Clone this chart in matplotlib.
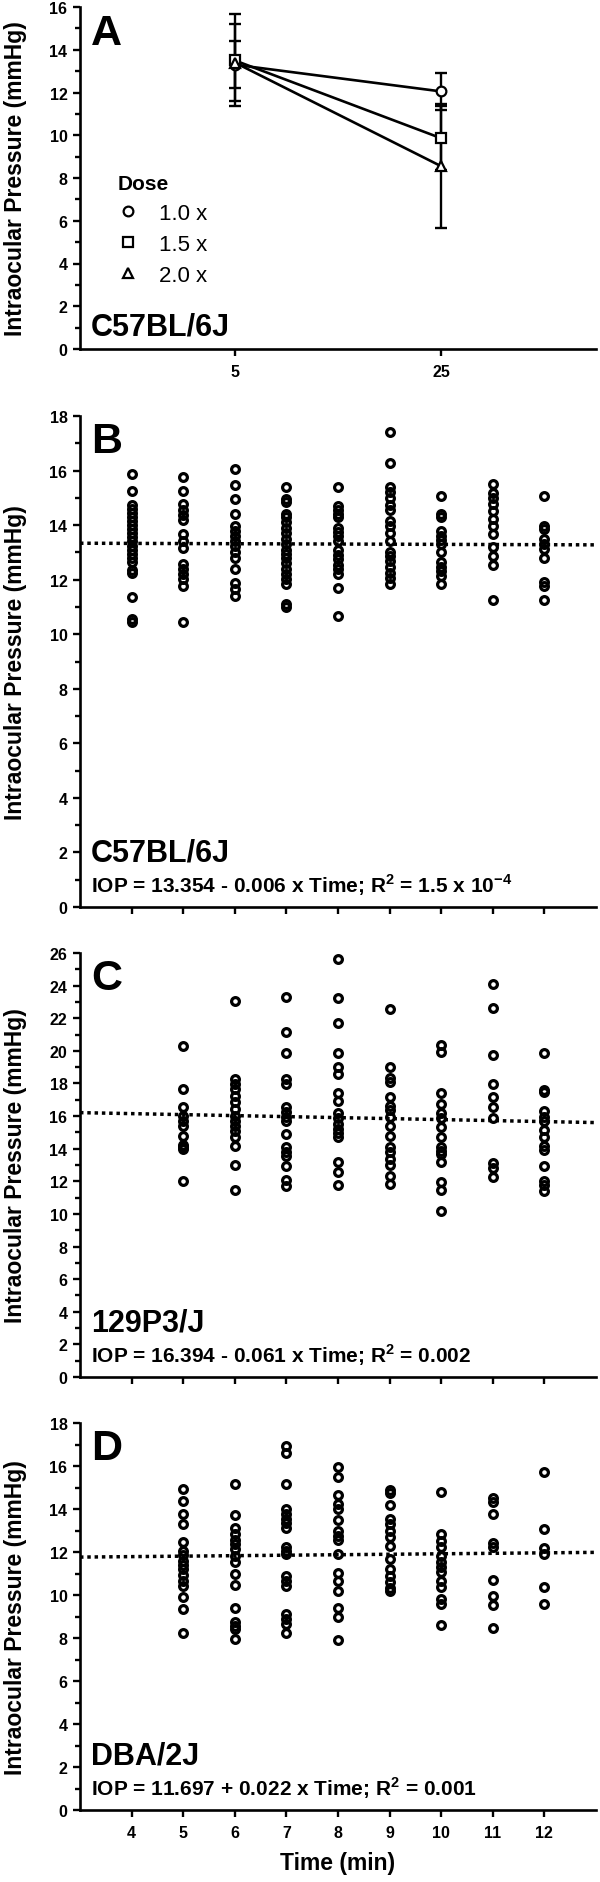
import numpy as np
import matplotlib.pyplot as plt
from matplotlib.lines import Line2D
from matplotlib.ticker import MultipleLocator

plt.rcParams['font.family'] = ['Liberation Sans', 'DejaVu Sans']
plt.rcParams['font.weight'] = 'bold'
plt.rcParams['axes.labelweight'] = 'bold'
plt.rcParams['mathtext.fontset'] = 'custom'
plt.rcParams['mathtext.rm'] = 'Liberation Sans:bold'
plt.rcParams['mathtext.bf'] = 'Liberation Sans:bold'

# Panel A: dose response, C57BL/6J (mean +/- error)
dose_times = [5, 25]
dose_labels = ['1.0 x', '1.5 x', '2.0 x']
dose_markers = ['o', 's', '^']
dose_means = [[13.30, 12.05], [13.50, 9.86], [13.40, 8.55]]
dose_errs = [[1.10, 0.87], [2.15, 1.50], [1.80, 2.89]]

# Panels B-D: IOP vs time (min) after anesthesia
times = [4, 5, 6, 7, 8, 9, 10, 11, 12]

b6_iop = [
    [15.86, 15.25, 14.75, 14.6, 14.45, 14.3, 14.15, 14.0, 13.85, 13.7, 13.55,
     13.4, 13.25, 13.1, 12.95, 12.8, 12.65, 12.35, 12.25, 11.37, 10.55, 10.45],
    [15.77, 15.25, 14.76, 14.57, 14.38, 14.2, 13.69, 13.42, 13.15, 12.57,
     12.38, 12.2, 12.01, 11.77, 10.45],
    [16.07, 15.47, 14.97, 14.4, 13.97, 13.79, 13.6, 13.42, 13.24, 13.0,
     12.81, 12.38, 11.87, 11.65, 11.4],
    [15.38, 14.95, 14.85, 14.4, 14.3, 14.1, 13.9, 13.7, 13.5, 13.3, 13.1,
     12.95, 12.8, 12.6, 12.4, 12.2, 12.02, 11.84, 11.1, 10.98],
    [15.38, 14.7, 14.55, 14.4, 14.3, 13.9, 13.75, 13.6, 13.4, 13.1, 12.9,
     12.75, 12.55, 12.4, 12.2, 11.71, 10.67],
    [17.4, 16.27, 15.38, 15.2, 15.0, 14.75, 14.55, 14.15, 13.95, 13.7, 13.4,
     13.0, 12.85, 12.7, 12.45, 12.25, 12.05, 11.85],
    [15.05, 14.4, 14.28, 13.79, 13.6, 13.45, 13.3, 13.0, 12.63, 12.45, 12.3,
     12.14, 11.84],
    [15.5, 15.19, 15.0, 14.77, 14.5, 14.22, 13.95, 13.67, 13.18, 12.87,
     12.53, 11.25],
    [15.05, 13.97, 13.85, 13.48, 13.3, 13.12, 12.78, 11.9, 11.78, 11.25],
]

p3_iop = [
    [],
    [20.28, 17.66, 16.54, 16.02, 15.72, 15.41, 14.8, 14.25, 14.09, 13.97,
     12.04],
    [23.08, 18.27, 17.97, 17.66, 17.25, 16.84, 16.43, 16.02, 15.72, 15.41,
     15.11, 14.7, 14.19, 13.02, 11.49],
    [23.28, 21.17, 19.85, 18.27, 17.97, 16.54, 16.23, 15.93, 15.72, 14.9,
     14.12, 13.78, 13.57, 12.92, 12.1, 11.7],
    [25.63, 23.22, 21.71, 19.85, 19.03, 18.58, 17.42, 16.95, 16.17, 15.9,
     15.52, 15.2, 14.95, 14.74, 13.17, 12.55, 11.8],
    [22.57, 19.03, 18.34, 18.1, 17.19, 16.64, 16.35, 15.96, 15.41, 14.8,
     14.09, 13.8, 13.37, 13.0, 12.35, 11.84],
    [20.38, 19.91, 17.4, 16.74, 16.17, 15.9, 15.31, 14.7, 14.09, 13.83,
     13.7, 13.17, 11.98, 11.47, 10.16],
    [24.1, 22.63, 19.75, 17.97, 17.15, 16.54, 15.86, 13.1, 12.8, 12.25],
    [19.85, 17.6, 17.45, 16.33, 15.96, 15.7, 15.15, 14.74, 14.19, 13.93,
     12.92, 12.04, 11.76, 11.43],
]

d2_iop = [
    [],
    [14.93, 14.39, 13.77, 13.3, 12.48, 12.06, 11.85, 11.6, 11.4, 11.2, 10.95,
     10.67, 10.43, 9.92, 9.35, 8.22],
    [15.16, 13.74, 13.1, 12.85, 12.56, 12.35, 12.14, 11.83, 11.52, 11.0,
     10.48, 9.4, 8.73, 8.55, 8.4, 7.95],
    [16.95, 16.59, 15.16, 14.0, 13.77, 13.54, 13.35, 13.12, 12.22, 12.06,
     11.9, 10.9, 10.67, 10.43, 9.12, 8.9, 8.63, 8.22],
    [15.94, 15.5, 14.66, 14.23, 14.0, 13.49, 12.96, 12.76, 12.56, 11.91,
     11.01, 10.67, 10.17, 9.4, 8.96, 7.91],
    [14.9, 14.74, 14.19, 13.54, 13.3, 12.99, 12.68, 12.29, 11.67, 11.21,
     10.9, 10.59, 10.33, 10.17],
    [14.81, 12.84, 12.53, 12.22, 11.83, 11.52, 11.28, 11.05, 10.67, 10.36,
     9.82, 9.59, 8.62],
    [14.51, 14.31, 13.77, 12.4, 12.25, 10.7, 9.97, 9.54, 8.47],
    [15.7, 13.07, 12.19, 11.91, 10.39, 9.58],
]

# regression fits printed on the panels (intercept, slope)
b6_fit = (13.354, -0.006)
p3_fit = (16.394, -0.061)
d2_fit = (11.697, 0.022)

W, H = 600, 1883
fig = plt.figure(figsize=(W / 100, H / 100), dpi=100)


def add_panel(top, bottom, left=80, right=596):
    return fig.add_axes([left / W, 1 - bottom / H, (right - left) / W,
                         (bottom - top) / H])


def style(ax):
    for s in ['top', 'right']:
        ax.spines[s].set_visible(False)
    for s in ['left', 'bottom']:
        ax.spines[s].set_linewidth(1.9)
    ax.tick_params(which='major', direction='out', length=5, width=1.7,
                   labelsize=11.5, pad=4)
    ax.tick_params(which='minor', direction='out', length=3.5, width=1.7)
    ax.tick_params(axis='x', which='minor', length=0)
    ax.tick_params(axis='x', pad=6)
    ax.yaxis.set_minor_locator(MultipleLocator(1))
    ax.yaxis.set_major_locator(MultipleLocator(2))
    ax.set_ylabel('Intraocular Pressure (mmHg)', fontsize=16.5)
    ax.yaxis.set_label_coords(-0.102, 0.5)


def ftext(x, y, s, **kw):
    fig.text(x / W, 1 - y / H, s, va='baseline', ha='left', **kw)


# ---- Panel A
axA = add_panel(8, 350)
for m, mean, err in zip(dose_markers, dose_means, dose_errs):
    axA.errorbar(dose_times, mean, yerr=err, fmt='none', ecolor='black',
                 elinewidth=1.7, capsize=4.5, capthick=1.7, zorder=2)
    axA.plot(dose_times, mean, marker=m, color='black', lw=1.9, ms=7,
             mfc='white', mec='black', mew=1.6, zorder=3)
axA.set_xlim(-10, 40)
axA.set_ylim(0, 16)
axA.set_xticks(dose_times)
style(axA)
handles = [Line2D([], [], marker=m, ls='none', ms=7, mfc='white', mec='black',
                  mew=1.6) for m in dose_markers]
axA.legend(handles, dose_labels, title='Dose', loc='upper left',
           bbox_to_anchor=(118 / W, 1 - 175 / H), bbox_transform=fig.transFigure,
           frameon=False, prop={'weight': 'normal', 'size': 16},
           title_fontproperties={'weight': 'bold', 'size': 15},
           alignment='left', handlelength=0.9, handletextpad=0.95,
           labelspacing=0.45, borderpad=0, borderaxespad=0)
ftext(91, 45, 'A', fontsize=31)
ftext(91, 335, 'C57BL/6J', fontsize=22)


# ---- Panels B-D
def scatter_panel(top, bottom, data, fit, ymax, letter, strain, eq, show_x):
    ax = add_panel(top, bottom)
    for t, vals in zip(times, data):
        ax.plot([t] * len(vals), vals, 'o', ls='none', ms=5.6, mfc='none',
                mec='black', mew=2.3, zorder=3)
    xs = np.array([3, 13])
    ax.plot(xs, fit[0] + fit[1] * xs, ls=(0, (1, 1.1)), color='black', lw=2.5,
            zorder=2)
    ax.set_xlim(3, 13)
    ax.set_ylim(0, ymax)
    ax.set_xticks(times)
    style(ax)
    if show_x:
        ax.set_xlabel('Time (min)', fontsize=16.5, labelpad=8)
    else:
        ax.set_xticklabels([])
    ftext(91, top + 36, letter, fontsize=31)
    ftext(91, bottom - 46, strain, fontsize=22)
    ftext(91, bottom - 15, eq, fontsize=15)
    return ax


scatter_panel(417, 908, b6_iop, b6_fit, 18, 'B', 'C57BL/6J',
              r'IOP = 13.354 - 0.006 x Time; R$^{\mathbf{2}}$ = 1.5 x 10$^{\mathbf{-4}}$',
              False)
scatter_panel(954, 1378, p3_iop, p3_fit, 26, 'C', '129P3/J',
              r'IOP = 16.394 - 0.061 x Time; R$^{\mathbf{2}}$ = 0.002', False)
scatter_panel(1424, 1811, d2_iop, d2_fit, 18, 'D', 'DBA/2J',
              r'IOP = 11.697 + 0.022 x Time; R$^{\mathbf{2}}$ = 0.001', True)

fig.savefig('out.png', dpi=100)
